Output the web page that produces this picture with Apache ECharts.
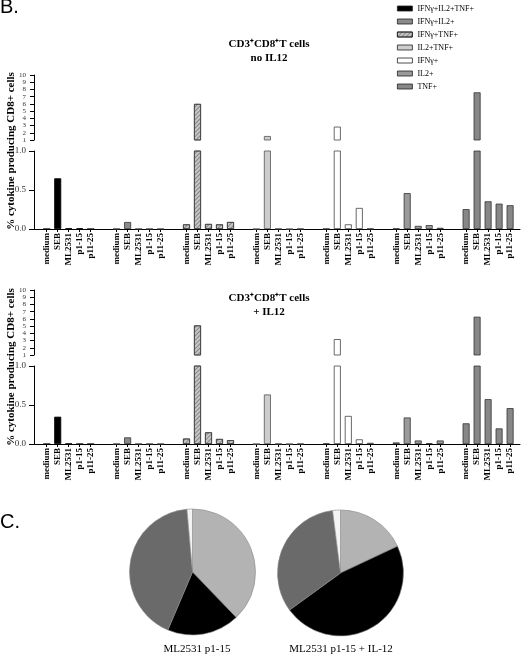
<!DOCTYPE html>
<html><head><meta charset="utf-8">
<script src="https://cdn.jsdelivr.net/npm/echarts@6/dist/echarts.min.js"></script>
<style>html,body{margin:0;padding:0;background:#fff}#c{width:528px;height:656px}</style>
</head><body><div id="c"></div>
<script>
// ---------- data ----------
const stimuli = ['medium', 'SEB', 'ML2531', 'p1-15', 'p11-25'];
const cytokines = ['IFNγ+IL2+TNF+', 'IFNγ+IL2+', 'IFNγ+TNF+', 'IL2+TNF+', 'IFNγ+', 'IL2+', 'TNF+'];
const upperTicks = [1, 10];
const lowerTicks = [0, 1];

// no IL12 panel (values per stimulus)
const noIL12_IFNg_IL2_TNF = [0, 0.65, 0.01, 0.01, 0];
const noIL12_IFNg_IL2     = [0, 0.09, 0, 0, 0];
const noIL12_IFNg_TNF     = [0.06, 6.0, 0.065, 0.06, 0.09];
const noIL12_IL2_TNF      = [0, 1.55, 0.005, 0, 0.005];
const noIL12_IFNg         = [0.005, 2.85, 0.06, 0.27, 0.005];
const noIL12_IL2          = [0.005, 0.46, 0.04, 0.05, 0.015];
const noIL12_TNF          = [0.255, 7.6, 0.355, 0.325, 0.305];

// + IL12 panel
const IL12_IFNg_IL2_TNF = [0, 0.35, 0.005, 0, 0];
const IL12_IFNg_IL2     = [0, 0.085, 0, 0, 0];
const IL12_IFNg_TNF     = [0.07, 5.1, 0.15, 0.065, 0.05];
const IL12_IL2_TNF      = [0, 0.635, 0.005, 0, 0.005];
const IL12_IFNg         = [0.01, 3.2, 0.36, 0.06, 0.015];
const IL12_IL2          = [0.02, 0.34, 0.045, 0.01, 0.045];
const IL12_TNF          = [0.265, 6.3, 0.575, 0.2, 0.46];

// pies (percent of slice, clockwise from 12 o'clock)
const pieNames = ['IFNγ+TNF+', 'IFNγ+IL2+TNF+', 'TNF+', 'IFNγ+'];
const pieLeft  = [37.8, 18.6, 42.2, 1.4];
const pieRight = [18, 47, 33, 2];
const pieCaptions = ['ML2531 p1-15', 'ML2531 p1-15 + IL-12'];

// ---------- layout / style ----------
const SERIF = '"Liberation Serif", "Times New Roman", serif';
const STRIDE = 6.355;          // group stride in slot units
const X_MIN = -1.155, X_MAX = 43.03;
const positions = [], posLabels = [];
for (let g = 0; g < cytokines.length; g++) {
  for (let i = 0; i < stimuli.length; i++) { positions.push(g * STRIDE + i); posLabels.push(stimuli[i]); }
}
const hatch = {symbol: 'rect', symbolSize: 1, dashArrayX: [1, 0], dashArrayY: [1, 2], rotation: -Math.PI / 4, color: 'rgba(70,70,70,0.5)'};
const barStyles = [
  {color: '#000000', borderColor: '#000'},
  {color: '#8a8a8a', borderColor: '#333'},
  {color: '#c6c6c6', borderColor: '#444', decal: hatch},
  {color: '#cdcdcd', borderColor: '#555'},
  {color: '#ffffff', borderColor: '#444'},
  {color: '#9a9a9a', borderColor: '#333'},
  {color: '#878787', borderColor: '#333'}
];
const panels = [
  {vals: [noIL12_IFNg_IL2_TNF, noIL12_IFNg_IL2, noIL12_IFNg_TNF, noIL12_IL2_TNF, noIL12_IFNg, noIL12_IL2, noIL12_TNF], up: 0, low: 1},
  {vals: [IL12_IFNg_IL2_TNF, IL12_IFNg_IL2, IL12_IFNg_TNF, IL12_IL2_TNF, IL12_IFNg, IL12_IL2, IL12_TNF], up: 2, low: 3}
];

const grids = [
  {left: 34, right: 8, top: 75, height: 65},
  {left: 34, right: 8, top: 151, height: 78},
  {left: 34, right: 8, top: 290, height: 65},
  {left: 34, right: 8, top: 366, height: 78}
];

const xAxes = grids.map((g, idx) => {
  const shown = idx % 2 === 1;
  return {
    type: 'value', gridIndex: idx, min: X_MIN, max: X_MAX, show: shown,
    splitLine: {show: false},
    axisLine: {show: shown, onZero: false, lineStyle: {color: '#000', width: 1}},
    axisTick: {show: shown, customValues: positions, length: 3, lineStyle: {color: '#000'}},
    axisLabel: {
      show: shown, customValues: positions, rotate: 90, margin: 4,
      fontFamily: SERIF, fontWeight: 'bold', fontSize: 9, color: '#000',
      formatter: v => { const k = positions.findIndex(p => Math.abs(p - v) < 1e-6); return k >= 0 ? posLabels[k] : ''; }
    }
  };
});
const yAxes = grids.map((g, idx) => {
  const upper = idx % 2 === 0;
  return {
    type: 'value', gridIndex: idx,
    min: upper ? upperTicks[0] : lowerTicks[0], max: upper ? upperTicks[1] : lowerTicks[1],
    interval: upper ? 1 : 0.5,
    splitLine: {show: false},
    axisLine: {show: true, onZero: false, lineStyle: {color: '#000', width: 1}},
    axisTick: {show: true, length: upper ? 4 : 5, lineStyle: {color: '#000'}},
    axisLabel: {
      margin: 8, fontFamily: SERIF, fontSize: upper ? 7 : 9, color: '#333',
      formatter: v => upper ? String(v) : v.toFixed(1)
    }
  };
});

const series = [];
panels.forEach(p => {
  p.vals.forEach((arr, k) => {
    const st = Object.assign({borderWidth: 0.8}, barStyles[k]);
    const lowData = arr.map((v, i) => [k * STRIDE + i, v]);
    const upData = arr.map((v, i) => [k * STRIDE + i, v]).filter(d => d[1] > 1);
    series.push({type: 'bar', name: cytokines[k], xAxisIndex: p.low, yAxisIndex: p.low, barWidth: 7, barGap: '-100%',
      data: lowData, itemStyle: st, silent: true});
    series.push({type: 'bar', name: cytokines[k], xAxisIndex: p.up, yAxisIndex: p.up, barWidth: 7, barGap: '-100%',
      data: upData, itemStyle: st, silent: true});
  });
});
const pieColors = ['#b3b3b3', '#000000', '#6a6a6a', '#f4f4f4'];
[[pieLeft, [192.5, 572]], [pieRight, [340.5, 573]]].forEach(([vals, c]) => {
  series.push({
    type: 'pie', center: c, radius: 63, startAngle: 90, clockwise: true, silent: true,
    label: {show: false}, labelLine: {show: false},
    itemStyle: {borderColor: '#888', borderWidth: 0.6},
    data: vals.map((v, i) => ({name: pieNames[i], value: v, itemStyle: {color: pieColors[i]}}))
  });
});

const yTitle = '% cytokine producing CD8+ cells';
const option = {
  animation: false,
  backgroundColor: '#fff',
  grid: grids,
  xAxis: xAxes,
  yAxis: yAxes,
  legend: {
    orient: 'vertical', left: 392, top: -1, itemWidth: 15, itemHeight: 5, itemGap: 4, icon: 'rect',
    selectedMode: false, data: cytokines,
    itemStyle: {borderColor: '#222', borderWidth: 0.8},
    textStyle: {fontFamily: SERIF, fontSize: 8, color: '#000', lineHeight: 9}
  },
  graphic: [
    {type: 'text', x: 0, y: -3, style: {text: 'B.', font: '20px "Liberation Sans", Arial, sans-serif', fill: '#000'}},
    {type: 'text', x: 0, y: 512, style: {text: 'C.', font: '20px "Liberation Sans", Arial, sans-serif', fill: '#000'}},
    {type: 'text', x: 11, y: 151, rotation: Math.PI / 2, style: {text: yTitle, textAlign: 'center', textVerticalAlign: 'middle', font: 'bold 11px ' + SERIF, fill: '#000'}},
    {type: 'text', x: 11, y: 367, rotation: Math.PI / 2, style: {text: yTitle, textAlign: 'center', textVerticalAlign: 'middle', font: 'bold 11px ' + SERIF, fill: '#000'}},
    {type: 'text', x: 269, y: 37, style: {text: 'CD3⁺CD8⁺T cells\nno IL12', textAlign: 'center', lineHeight: 14, font: 'bold 11px ' + SERIF, fill: '#000'}},
    {type: 'text', x: 269, y: 291, style: {text: 'CD3⁺CD8⁺T cells\n+ IL12', textAlign: 'center', lineHeight: 14, font: 'bold 11px ' + SERIF, fill: '#000'}},
    {type: 'text', x: 197, y: 649, style: {text: pieCaptions[0], textAlign: 'center', textVerticalAlign: 'middle', font: '11px ' + SERIF, fill: '#000'}},
    {type: 'text', x: 341, y: 649, style: {text: pieCaptions[1], textAlign: 'center', textVerticalAlign: 'middle', font: '11px ' + SERIF, fill: '#000'}}
  ],
  series: series
};
const chart = echarts.init(document.getElementById('c'), null, {renderer: 'canvas'});
chart.setOption(option);
</script></body></html>
